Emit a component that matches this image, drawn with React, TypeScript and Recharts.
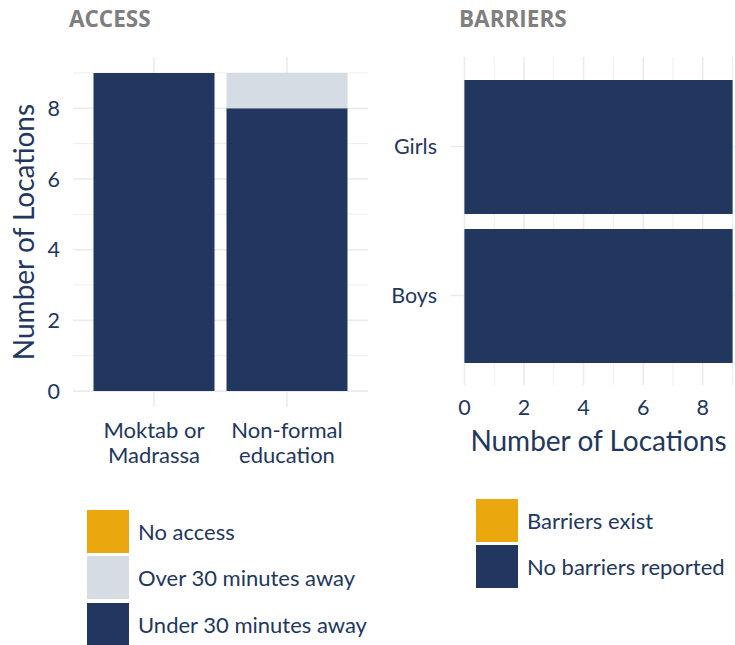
import { BarChart, Bar, XAxis, YAxis, CartesianGrid, Legend, Label } from 'recharts'

const NAVY = '#223760'
const LIGHT = '#D5DCE3'
const ORANGE = '#EAA70E'
const GRID = '#EBEBEB'
const FONT = 'Lato, sans-serif'

// ACCESS panel
const ACCESS_CATEGORIES = ['Moktab or\nMadrassa', 'Non-formal\neducation']
const ACCESS_UNDER_30 = [9, 8]
const ACCESS_OVER_30 = [0, 1]
const ACCESS_NONE = [0, 0]

// BARRIERS panel
const BARRIER_GROUPS = ['Girls', 'Boys']
const BARRIERS_NONE = [9, 9]
const BARRIERS_EXIST = [0, 0]

const COUNT_TICKS = [0, 2, 4, 6, 8]
const MINOR_TICKS = [1, 3, 5, 7, 9]
const COUNT_DOMAIN: [number, number] = [-0.45, 9.45]

const accessData = ACCESS_CATEGORIES.map((name, i) => ({
  name,
  under: ACCESS_UNDER_30[i],
  over: ACCESS_OVER_30[i],
  none: ACCESS_NONE[i],
}))

const barrierData = BARRIER_GROUPS.map((name, i) => ({
  name,
  noBarriers: BARRIERS_NONE[i],
  barriers: BARRIERS_EXIST[i],
}))

function WrapTick(props: any) {
  const { x, y, payload } = props
  const lines = String(payload.value).split('\n')
  return (
    <text x={x} y={y} textAnchor="middle" fill={NAVY} fontSize={22} fontFamily={FONT}>
      {lines.map((l, i) => (
        <tspan key={i} x={x} dy={i === 0 ? '0.72em' : 25}>{l}</tspan>
      ))}
    </text>
  )
}

// payload already comes top-of-stack first, which is the order the reference uses
function SquareLegend(props: any) {
  const items = props.payload || []
  return (
    <div>
      {items.map((item: any) => (
        <div key={item.value} style={{ display: 'flex', alignItems: 'center', height: 46.5 }}>
          <div style={{ width: 42, height: 43, background: item.color }} />
          <span style={{ marginLeft: 9, fontSize: 22, color: NAVY, fontFamily: FONT, whiteSpace: 'nowrap' }}>
            {item.value}
          </span>
        </div>
      ))}
    </div>
  )
}

const titleStyle: React.CSSProperties = {
  position: 'absolute', top: 3, fontFamily: '"Open Sans", sans-serif',
  fontWeight: 700, fontSize: 22.5, color: '#7F7F7F',
}

const tickStyle = { fill: NAVY, fontSize: 21.5, fontFamily: FONT }

export default function App() {
  return (
    <div style={{
      position: 'absolute', left: 0, top: 0, width: 735, height: 645,
      overflow: 'hidden', background: 'white', fontFamily: FONT,
    }}>
      <div style={{ ...titleStyle, left: 69 }}>ACCESS</div>
      <div style={{ ...titleStyle, left: 459 }}>BARRIERS</div>

      {/* ACCESS: stacked columns */}
      <div style={{ position: 'absolute', left: 0, top: 0 }}>
        <BarChart width={370} height={645} data={accessData}
          margin={{ top: 57, right: 2, left: 23, bottom: 168 }}>
          <CartesianGrid stroke={GRID} strokeWidth={1.6} syncWithTicks />
          <CartesianGrid stroke={GRID} strokeWidth={0.9} vertical={false} horizontalValues={MINOR_TICKS} />
          <XAxis dataKey="name" height={70} axisLine={false} tickLine={false}
            tickMargin={9} padding={{ left: 14.5, right: 14.5 }}
            tick={<WrapTick />} interval={0} />
          <YAxis type="number" domain={COUNT_DOMAIN} ticks={COUNT_TICKS} width={50}
            axisLine={false} tickLine={false} tickMargin={7} tick={tickStyle}>
            <Label value="Number of Locations" angle={-90} position="insideLeft" offset={1}
              style={{ textAnchor: 'middle', fill: NAVY, fontSize: 28, fontFamily: FONT }} />
          </YAxis>
          <Bar dataKey="under" name="Under 30 minutes away" stackId="a" fill={NAVY}
            barSize={121} isAnimationActive={false} />
          <Bar dataKey="over" name="Over 30 minutes away" stackId="a" fill={LIGHT}
            barSize={121} isAnimationActive={false} />
          <Bar dataKey="none" name="No access" stackId="a" fill={ORANGE}
            barSize={121} isAnimationActive={false} />
          <Legend layout="horizontal" verticalAlign="middle" align="center"
            wrapperStyle={{ left: 87, top: 508, width: 283, height: 140 }}
            content={<SquareLegend />} />
        </BarChart>
      </div>

      {/* BARRIERS: horizontal bars */}
      <div style={{ position: 'absolute', left: 370, top: 0 }}>
        <BarChart width={380} height={645} data={barrierData} layout="vertical"
          margin={{ top: 57, right: 4, left: 0, bottom: 190 }}>
          <CartesianGrid stroke={GRID} strokeWidth={1.6} syncWithTicks />
          <CartesianGrid stroke={GRID} strokeWidth={0.9} horizontal={false} verticalValues={MINOR_TICKS} />
          <XAxis type="number" domain={COUNT_DOMAIN} ticks={COUNT_TICKS} height={70}
            axisLine={false} tickLine={false} tickMargin={9} tick={tickStyle}>
            <Label value="Number of Locations" position="insideBottom" offset={4}
              style={{ fill: NAVY, fontSize: 28, fontFamily: FONT }} />
          </XAxis>
          <YAxis type="category" dataKey="name" width={81} axisLine={false} tickLine={false}
            tickMargin={8} padding={{ top: 15, bottom: 15 }} tick={tickStyle} />
          <Bar dataKey="noBarriers" name="No barriers reported" stackId="b" fill={NAVY}
            barSize={134} isAnimationActive={false} />
          <Bar dataKey="barriers" name="Barriers exist" stackId="b" fill={ORANGE}
            barSize={134} isAnimationActive={false} />
          <Legend layout="horizontal" verticalAlign="middle" align="center"
            wrapperStyle={{ left: 106, top: 497, width: 270, height: 100 }}
            content={<SquareLegend />} />
        </BarChart>
      </div>
    </div>
  )
}
